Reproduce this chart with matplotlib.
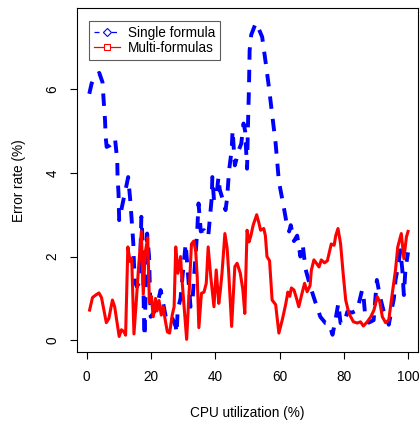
import matplotlib
matplotlib.use("Agg")
import matplotlib.pyplot as plt
from matplotlib.lines import Line2D

# ---- data ----
single_x = [0.8, 1.5, 2.5, 3.9, 4.9, 5.2, 5.7, 5.9, 6.2, 7.2, 8.2, 8.8, 9.1, 9.5, 9.6, 9.9,
            10.1, 11.0, 11.4, 12.4, 12.9, 13.6, 14.0, 14.5, 14.7, 15.0, 15.6, 16.5, 17.0, 17.4,
            17.8, 18.0, 18.8, 19.4, 19.9, 20.7, 21.8, 23.0, 23.5, 24.6, 25.6, 26.5, 27.7, 28.0,
            28.3, 29.2, 29.9, 30.8, 31.3, 32.3, 33.0, 34.4, 34.8, 35.5, 36.5, 37.8, 38.9, 39.1,
            39.6, 40.3, 41.0, 41.4, 42.2, 43.2, 43.7, 44.3, 45.1, 45.4, 46.1, 47.3, 48.1, 48.8,
            49.3, 49.9, 50.2, 50.5, 50.7, 51.2, 52.6, 53.5, 54.6, 55.6, 56.7, 57.8, 58.8, 59.8,
            61.4, 62.4, 63.0, 63.5, 64.5, 65.5, 66.5, 67.2, 68.1, 69.6, 71.2, 72.7, 74.3, 75.4,
            76.5, 77.4, 78.3, 79.0, 80.1, 81.1, 82.6, 84.2, 85.7, 86.2, 86.7, 87.8, 89.3, 90.3,
            91.4, 92.4, 93.5, 94.0, 95.6, 96.1, 96.9, 97.6, 98.2, 98.7, 99.2, 100.0]
single_y = [5.89, 6.13, 6.30, 6.39, 6.17, 5.81, 5.26, 4.86, 4.62, 4.66, 4.75, 4.82, 4.60, 4.30, 3.90, 3.51,
            2.87, 3.20, 3.35, 3.71, 3.90, 3.30, 2.87, 2.31, 1.84, 1.40, 1.28, 1.40, 2.95, 2.40,
            0.60, 0.09, 2.55, 2.00, 0.56, 0.64, 0.80, 1.20, 1.00, 0.56, 0.64, 0.55, 0.33, 0.17,
            0.72, 1.00, 1.60, 2.31, 1.80, 0.80, 1.04, 2.63, 3.27, 2.60, 2.63, 2.47, 3.40, 3.90,
            3.35, 3.40, 3.90, 3.60, 3.40, 3.11, 3.40, 4.06, 4.54, 5.02, 4.18, 4.54, 4.70, 5.18,
            5.00, 4.10, 5.20, 6.05, 6.93, 7.30, 7.58, 7.45, 7.25, 6.69, 6.05, 5.34, 4.70, 3.80,
            3.15, 2.71, 2.60, 2.75, 2.37, 2.50, 2.00, 2.30, 1.70, 1.28, 0.90, 0.56, 0.41, 0.40,
            0.13, 0.48, 0.88, 0.41, 0.40, 0.68, 0.66, 0.72, 1.20, 1.00, 0.56, 0.42, 0.48, 1.44,
            1.00, 0.70, 0.50, 0.37, 1.00, 1.44, 1.76, 2.15, 1.70, 1.08, 1.70, 2.10]

multi_x = [0.9, 1.8, 2.8, 3.8, 4.6, 5.4, 6.1, 6.9, 8.0, 8.7, 9.3, 10.1, 10.8, 11.6, 12.1, 12.8,
           13.5, 14.0, 14.7, 15.4, 16.1, 17.0, 17.6, 18.2, 19.0, 19.5, 20.1, 20.7, 21.4, 21.9,
           22.5, 23.2, 23.8, 24.5, 25.1, 25.8, 26.6, 27.2, 27.7, 28.4, 29.2, 29.7, 30.3, 31.1,
           31.9, 32.6, 33.3, 33.9, 34.4, 34.9, 35.7, 36.5, 37.2, 37.8, 38.6, 39.6, 40.3, 41.1,
           41.6, 42.1, 43.0, 43.7, 44.2, 45.1, 46.1, 46.8, 47.8, 48.6, 49.2, 49.9, 50.5, 51.0,
           51.8, 52.9, 53.6, 54.1, 55.1, 55.6, 56.1, 56.9, 57.7, 58.8, 59.8, 60.9, 61.9, 62.6,
           63.2, 63.7, 64.5, 65.3, 66.0, 67.1, 67.8, 68.6, 69.5, 69.9, 70.7, 71.5, 72.3, 73.0,
           74.0, 74.9, 75.5, 76.1, 77.0, 77.5, 78.2, 79.0, 79.8, 80.6, 81.6, 83.0, 84.2, 85.2,
           86.1, 87.3, 88.4, 89.4, 90.4, 91.2, 92.0, 93.0, 94.0, 95.1, 96.1, 96.8, 97.9, 98.7,
           99.5, 100.0]
multi_y = [0.72, 1.02, 1.08, 1.13, 1.02, 0.70, 0.42, 0.52, 0.96, 0.80, 0.50, 0.09, 0.25, 0.20, 0.12, 2.23,
           1.88, 1.96, 0.15, 0.90, 1.70, 2.60, 1.10, 2.10, 2.45, 0.90, 1.05, 0.56, 1.00, 0.70,
           0.95, 0.60, 0.80, 0.45, 0.20, 0.17, 0.60, 0.80, 2.23, 1.60, 2.00, 1.40, 0.80, 0.02,
           1.20, 2.30, 2.37, 2.15, 1.50, 0.30, 1.12, 1.15, 1.36, 2.23, 1.52, 0.80, 1.68, 0.88,
           1.20, 1.60, 2.55, 2.20, 1.60, 0.33, 1.76, 1.84, 1.60, 1.20, 0.64, 2.63, 2.35, 2.47,
           2.75, 3.00, 2.80, 2.63, 2.67, 2.50, 2.00, 1.90, 0.96, 0.85, 0.17, 0.50, 0.85, 1.15,
           1.05, 1.25, 1.20, 1.00, 0.80, 1.15, 1.36, 1.16, 1.30, 1.67, 1.92, 1.84, 1.75, 1.92,
           1.85, 1.90, 2.10, 2.30, 2.27, 2.50, 2.67, 2.31, 1.60, 0.96, 0.64, 0.44, 0.41, 0.44,
           0.34, 0.44, 0.56, 0.72, 1.04, 0.92, 0.56, 0.42, 0.48, 1.12, 1.68, 2.23, 2.55, 1.95,
           2.47, 2.60]

x_ticks = [0, 20, 40, 60, 80, 100]
y_ticks = [0, 2, 4, 6]
labels = ["Single formula", "Multi-formulas"]
x_label = "CPU utilization (%)"
y_label = "Error rate (%)"

# ---- style ----
plt.rcParams['font.family'] = ['Liberation Sans', 'DejaVu Sans']
FS = 9.8

fig = plt.figure(figsize=(4.2, 4.24), dpi=100)
ax = fig.add_axes([0.1826, 0.169, 0.996 - 0.1826, 0.981 - 0.169])

ax.plot(single_x, single_y, color='#0000FF', lw=2.8, linestyle=(0, (3.2, 2.6)),
        dash_capstyle='butt', label=labels[0])
ax.plot(multi_x, multi_y, color='#FF0000', lw=2.2, solid_joinstyle='round',
        label=labels[1])

ax.set_xlim(-3.12, 103.2)
ax.set_ylim(-0.29, 7.94)
ax.set_xticks(x_ticks)
ax.set_yticks(y_ticks)
ax.tick_params(direction='out', length=5, width=0.8, labelsize=FS, colors='black')
ax.tick_params(axis='x', pad=8.0)
ax.tick_params(axis='y', pad=7.5, labelrotation=90)
for t in ax.get_yticklabels():
    t.set_va('center')
for s in ax.spines.values():
    s.set_linewidth(0.8)
    s.set_color('black')

ax.set_xlabel(x_label, fontsize=FS)
ax.xaxis.set_label_coords(0.5, -0.1754)
ax.xaxis.label.set_va('center')
ax.set_ylabel(y_label, fontsize=FS)
ax.yaxis.set_label_coords(-0.17, 0.5)
ax.yaxis.label.set_va('center')

# legend
h1 = Line2D([], [], color='#0000FF', lw=0.9, linestyle=(0, (4, 3)), marker='D',
            markersize=3.8, mfc='white', mew=0.8)
h2 = Line2D([], [], color='#FF0000', lw=0.9, marker='s', markersize=4, mfc='white', mew=0.8)
leg = ax.legend([h1, h2], labels, loc='upper left', bbox_to_anchor=(0.036, 0.963),
                borderaxespad=0, fontsize=FS, frameon=True, fancybox=False,
                handlelength=1.9, handletextpad=0.6, borderpad=0.35, labelspacing=0.1)
leg.get_frame().set_edgecolor('#333333')
leg.get_frame().set_linewidth(0.8)

fig.savefig('out.png', dpi=100)
